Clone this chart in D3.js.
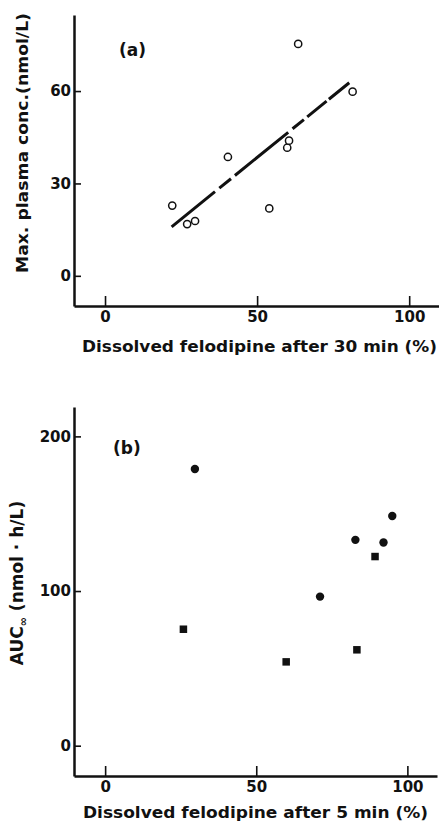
<!DOCTYPE html>
<html>
<head>
<meta charset="utf-8">
<script src="https://cdn.jsdelivr.net/npm/d3@7"></script>
<style>
  body { margin: 0; background: #fff; }
  text { font-family: "DejaVu Sans", sans-serif; font-weight: bold; fill: #111; }
</style>
</head>
<body>
<div id="chart"></div>
<script>
// panel (a): dissolved after 30 min vs max plasma conc.
const dissolved30 = [22.1, 27.0, 29.6, 40.4, 54.0, 59.9, 60.5, 63.5, 81.4];
const maxConc = [22.8, 16.8, 17.8, 38.6, 21.9, 41.6, 43.9, 75.3, 59.8];
const fitX = [21.9, 80.3];
const fitY = [15.9, 62.7];

// panel (b): dissolved after 5 min vs AUC
const dissolved5Circle = [29.7, 71.1, 82.8, 92.1, 95.0];
const aucCircle = [178.9, 96.4, 133.1, 131.4, 148.5];
const dissolved5Square = [25.9, 59.9, 83.3, 89.3];
const aucSquare = [75.3, 54.2, 62.0, 122.3];

const xTicks = [0, 50, 100];
const yTicksA = [0, 30, 60];
const yTicksB = [0, 100, 200];

const W = 439, H = 823;

const svg = d3.select("#chart")
  .append("svg")
  .attr("width", W)
  .attr("height", H);

function drawAxes(x, y, yTicks) {
  const g = svg.append("g");

  const yAx = g.append("g")
    .attr("transform", `translate(${x.range()[0]},0)`)
    .call(d3.axisLeft(y).tickValues(yTicks).tickSizeInner(-7).tickSizeOuter(0).tickPadding(3).tickFormat(d3.format("d")));

  const xAx = g.append("g")
    .attr("transform", `translate(0,${y.range()[0]})`)
    .call(d3.axisBottom(x).tickValues(xTicks).tickSizeInner(-10).tickSizeOuter(0).tickPadding(5).tickFormat(d3.format("d")));

  [yAx, xAx].forEach(ax => {
    ax.select(".domain").attr("stroke", "#111").attr("stroke-width", 2.5);
    ax.selectAll(".tick line").attr("stroke", "#111").attr("stroke-width", 1.6);
    ax.selectAll(".tick text")
      .style("font-family", "'DejaVu Sans', sans-serif")
      .style("font-weight", "bold")
      .style("font-size", "15px")
      .attr("fill", "#111");
  });
  return g;
}

// ---------- panel (a)
const xA = d3.scaleLinear().domain([-10.2, 109.8]).range([74, 439]);
const yA = d3.scaleLinear().domain([-9.8, 84.7]).range([306, 15]);

drawAxes(xA, yA, yTicksA);

svg.append("line")
  .attr("x1", xA(fitX[0])).attr("y1", yA(fitY[0]))
  .attr("x2", xA(fitX[1])).attr("y2", yA(fitY[1]))
  .attr("stroke", "#111")
  .attr("stroke-width", 3)
  .attr("stroke-dasharray", "55.8,5.6,15,5.1,68.6,5.6,14.6,4.3,24.9,3,26.2");

svg.append("g").selectAll("circle")
  .data(d3.range(dissolved30.length))
  .enter()
  .append("circle")
  .attr("cx", i => xA(dissolved30[i]))
  .attr("cy", i => yA(maxConc[i]))
  .attr("r", 3.6)
  .attr("fill", "#fff")
  .attr("stroke", "#111")
  .attr("stroke-width", 1.5);

svg.append("text")
  .attr("x", 119).attr("y", 56)
  .style("font-size", "17px")
  .text("(a)");

svg.append("text")
  .attr("transform", "translate(22,143) rotate(-90)")
  .attr("text-anchor", "middle")
  .attr("dominant-baseline", "central")
  .attr("textLength", 260)
  .attr("lengthAdjust", "spacingAndGlyphs")
  .style("font-size", "16px")
  .text("Max. plasma conc.(nmol/L)");

svg.append("text")
  .attr("x", 82).attr("y", 352)
  .attr("textLength", 355)
  .attr("lengthAdjust", "spacingAndGlyphs")
  .style("font-size", "16px")
  .text("Dissolved felodipine after 30 min (%)");

// ---------- panel (b)
const xB = d3.scaleLinear().domain([-10.3, 109.8]).range([74, 437]);
const yB = d3.scaleLinear().domain([-19.6, 219]).range([776, 407]);

drawAxes(xB, yB, yTicksB);

svg.append("g").selectAll("circle")
  .data(d3.range(dissolved5Circle.length))
  .enter()
  .append("circle")
  .attr("cx", i => xB(dissolved5Circle[i]))
  .attr("cy", i => yB(aucCircle[i]))
  .attr("r", 4.2)
  .attr("fill", "#111");

const sq = 7.5;
svg.append("g").selectAll("rect")
  .data(d3.range(dissolved5Square.length))
  .enter()
  .append("rect")
  .attr("x", i => xB(dissolved5Square[i]) - sq / 2)
  .attr("y", i => yB(aucSquare[i]) - sq / 2)
  .attr("width", sq)
  .attr("height", sq)
  .attr("fill", "#111");

svg.append("text")
  .attr("x", 113).attr("y", 454)
  .style("font-size", "17px")
  .text("(b)");

const yLabB = svg.append("text")
  .attr("transform", "translate(17,583) rotate(-90)")
  .attr("text-anchor", "middle")
  .attr("dominant-baseline", "central")
  .style("font-size", "17px");
yLabB.append("tspan").text("AUC");
yLabB.append("tspan").attr("baseline-shift", "sub").style("font-size", "11px").text("∞");
yLabB.append("tspan").text(" (nmol · h/L)");

svg.append("text")
  .attr("x", 83).attr("y", 818)
  .attr("textLength", 345)
  .attr("lengthAdjust", "spacingAndGlyphs")
  .style("font-size", "15px")
  .text("Dissolved felodipine after 5 min (%)");
</script>
</body>
</html>
